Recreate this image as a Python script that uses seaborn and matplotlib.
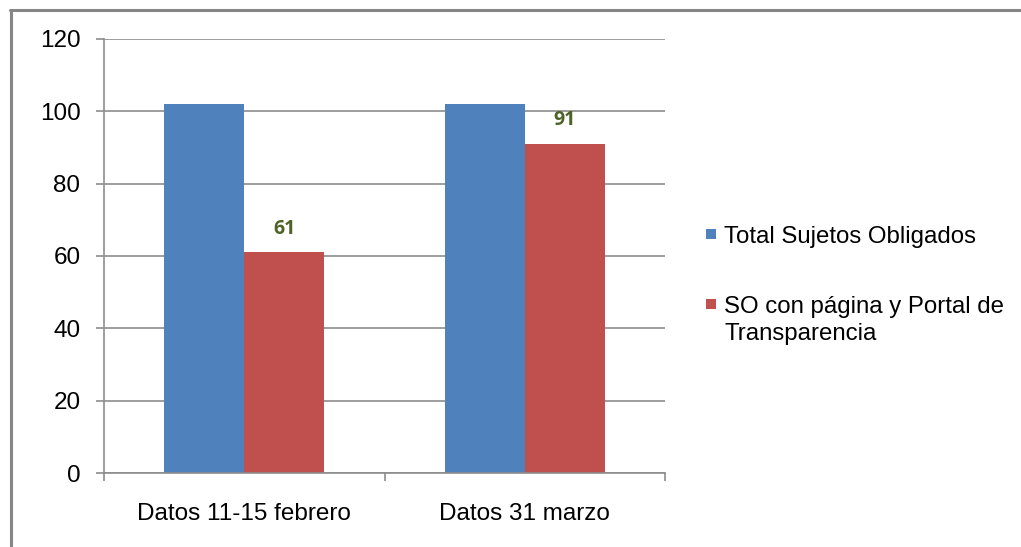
import pandas as pd
import seaborn as sns
import matplotlib.pyplot as plt
from matplotlib.lines import Line2D
from matplotlib.patches import Rectangle

categories = ["Datos 11-15 febrero", "Datos 31 marzo"]
series = ["Total Sujetos Obligados", "SO con página y Portal de\nTransparencia"]
total_so = [102, 102]
so_portal = [61, 91]
colors = ["#4F81BD", "#C0504D"]

df = pd.DataFrame({
    "categoria": categories * 2,
    "serie": [series[0]] * 2 + [series[1]] * 2,
    "valor": total_so + so_portal,
})

sns.set_style("white")
plt.rcParams["font.family"] = ["Liberation Sans", "DejaVu Sans"]
plt.rcParams["text.color"] = "black"
plt.rcParams["xtick.color"] = "black"
plt.rcParams["ytick.color"] = "black"

W, H = 1021, 547
fig = plt.figure(figsize=(W / 100, H / 100), dpi=100)
ax = fig.add_axes([104 / W, 1 - 473 / H, 561 / W, 434 / H])

sns.barplot(data=df, x="categoria", y="valor", hue="serie", palette=colors,
            width=0.571, saturation=1, linewidth=0, ax=ax, legend=False)

ax.set_xlim(-0.5, 1.5)
ax.set_ylim(0, 120)
ax.set_yticks(range(0, 121, 20))
ax.yaxis.grid(True, color="#8C8C8C", linewidth=1.2)
ax.set_axisbelow(True)
ax.set_xlabel("")
ax.set_ylabel("")
for s in ["top", "right"]:
    ax.spines[s].set_visible(False)
for s in ["left", "bottom"]:
    ax.spines[s].set_color("#8C8C8C")
    ax.spines[s].set_linewidth(1.2)

ax.tick_params(axis="y", which="major", left=True, length=6, width=1.2,
               color="#8C8C8C", labelsize=17.5, pad=11, labelcolor="black")
ax.tick_params(axis="x", which="major", bottom=False, labelsize=17.5, pad=18,
               labelcolor="black")
ax.set_xticks([-0.5, 0.5, 1.5], minor=True)
ax.tick_params(axis="x", which="minor", bottom=True, length=6, width=1.2,
               color="#8C8C8C")

# value labels on the red series only
red_bars = ax.containers[1]
for bar, v in zip(red_bars, so_portal):
    ax.text(bar.get_x() + bar.get_width() / 2, v + 6.6, str(v),
            ha="center", va="center", fontsize=14, fontweight="bold",
            color="#4F6228", family=["Open Sans", "DejaVu Sans"])

# legend drawn by hand so the square sits on the first text line
legend_rows = [234, 304]
for c, label, y in zip(colors, series, legend_rows):
    fig.add_artist(Rectangle((706 / W, 1 - (y + 5) / H), 10 / W, 10 / H,
                             facecolor=c, edgecolor="none",
                             transform=fig.transFigure))
    fig.text(724 / W, 1 - (y - 8) / H, label, ha="left", va="top",
             fontsize=17.3, linespacing=1.3)

# outer chart border (only top and left visible in the crop)
fig.add_artist(Line2D([10 / W, 1.0], [1 - 10 / H, 1 - 10 / H],
                      color="#868686", linewidth=2.2))
fig.add_artist(Line2D([11 / W, 11 / W], [0.0, 1 - 10 / H],
                      color="#868686", linewidth=2.2))

fig.savefig("out.png", dpi=100)
